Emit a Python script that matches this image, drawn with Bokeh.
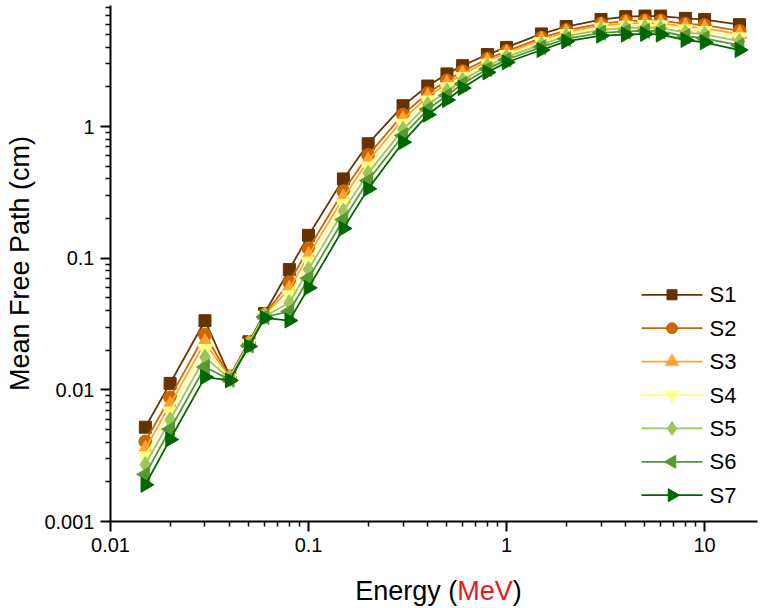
import math
from bokeh.plotting import figure
from bokeh.models import FixedTicker, CustomJSTickFormatter, Range1d, Div, LinearScale
from bokeh.core.properties import value
from bokeh.layouts import column
from bokeh.embed import file_html
from bokeh.resources import INLINE

# ---- data ----
energy = [0.015, 0.02, 0.03, 0.04, 0.05, 0.06, 0.08, 0.1, 0.15, 0.2, 0.3, 0.4, 0.5,
          0.6, 0.8, 1, 1.5, 2, 3, 4, 5, 6, 8, 10, 15]

s1 = [0.0052, 0.0112, 0.0335, 0.0127, 0.0232, 0.0380, 0.082, 0.149, 0.40, 0.74, 1.44, 2.03,
      2.51, 2.90, 3.52, 3.99, 5.05, 5.74, 6.49, 6.83, 6.90, 6.90, 6.63, 6.49, 5.94]
s2 = [0.00405, 0.00876, 0.0262, 0.01247, 0.0227, 0.0373, 0.0656, 0.118, 0.322, 0.607, 1.23,
      1.79, 2.24, 2.63, 3.26, 3.73, 4.71, 5.38, 6.05, 6.32, 6.38, 6.36, 6.03, 5.88, 5.32]
s3 = [0.00355, 0.00772, 0.0230, 0.01236, 0.0225, 0.0369, 0.0585, 0.105, 0.288, 0.548, 1.13,
      1.68, 2.11, 2.50, 3.13, 3.61, 4.54, 5.20, 5.83, 6.06, 6.12, 6.10, 5.73, 5.58, 5.02]
s4 = [0.00314, 0.00685, 0.0205, 0.01224, 0.0223, 0.0366, 0.0525, 0.0942, 0.259, 0.498, 1.05,
      1.58, 1.99, 2.38, 3.01, 3.50, 4.39, 5.04, 5.64, 5.84, 5.90, 5.87, 5.48, 5.32, 4.76]
s5 = [0.00271, 0.00592, 0.0177, 0.01210, 0.0220, 0.0362, 0.0459, 0.0821, 0.228, 0.443, 0.952,
      1.47, 1.86, 2.25, 2.88, 3.37, 4.21, 4.85, 5.41, 5.58, 5.64, 5.58, 5.18, 5.01, 4.45]
s6 = [0.00228, 0.00502, 0.0149, 0.01196, 0.0217, 0.0357, 0.0394, 0.0703, 0.196, 0.388, 0.854,
      1.35, 1.72, 2.11, 2.73, 3.22, 4.01, 4.63, 5.15, 5.28, 5.33, 5.29, 4.86, 4.68, 4.13]
s7 = [0.0019, 0.0042, 0.0125, 0.0118, 0.0214, 0.0352, 0.0336, 0.0595, 0.168, 0.336, 0.76,
      1.23, 1.59, 1.96, 2.58, 3.07, 3.81, 4.43, 4.90, 4.99, 5.05, 4.99, 4.54, 4.36, 3.81]

series_names = ["S1", "S2", "S3", "S4", "S5", "S6", "S7"]
series_values = [s1, s2, s3, s4, s5, s6, s7]

x_ticks = [0.01, 0.1, 1, 10]
y_ticks = [0.001, 0.01, 0.1, 1]

# ---- styles ----
colors = ["#663300", "#cc6600", "#ffa333", "#ffff88", "#9dc75b", "#559933", "#006600"]
markers = ["square", "circle", "triangle", "inverted_triangle", "diamond", "triangle", "triangle"]
angles = [0, 0, 0, 0, 0, math.pi / 2, -math.pi / 2]
sizes = [12, 13, 15, 15, 16, 15, 15]
leg_sizes = [10, 11, 13, 13, 14, 13, 13]
FONT = "Liberation Sans"

FRAME_W, FRAME_H = 647, 516
p = figure(width=760, height=566, x_axis_type="log", y_axis_type="log",
           x_range=Range1d(0.01, 18.5), y_range=Range1d(0.001, 8.3),
           output_backend="svg", toolbar_location=None,
           min_border_left=110, min_border_right=3, min_border_top=5, min_border_bottom=45)
p.outline_line_color = None
p.xgrid.visible = False
p.ygrid.visible = False
p.background_fill_color = "white"

# pixel-like linear ranges for the hand-built legend (positions inside the frame)
p.extra_x_ranges = {"lx": Range1d(0, FRAME_W)}
p.extra_y_ranges = {"ly": Range1d(0, FRAME_H)}
p.extra_x_scales = {"lx": LinearScale()}
p.extra_y_scales = {"ly": LinearScale()}

for name, vals, c, m, a, s in zip(series_names, series_values, colors, markers, angles, sizes):
    p.line(energy, vals, line_color=c, line_width=1.8)
    p.scatter(energy, vals, marker=m, angle=a, size=s, fill_color=c, line_color=c)

# legend
row0 = 226.7   # centre of first row, px above frame bottom
pitch = 33.4
for i, (name, c, m, a, s) in enumerate(zip(series_names, colors, markers, angles, leg_sizes)):
    yy = row0 - i * pitch
    p.segment(x0=[531], y0=[yy], x1=[592], y1=[yy], line_color=c, line_width=1.8,
              x_range_name="lx", y_range_name="ly")
    p.scatter(x=[561.5], y=[yy], marker=m, angle=a, size=s, fill_color=c, line_color=c,
              x_range_name="lx", y_range_name="ly")
    p.text(x=[599], y=[yy], text=[name], text_font=value(FONT), text_font_size="22px",
           text_baseline="middle", text_align="left", text_color="black",
           x_range_name="lx", y_range_name="ly")

minor_x = [k * 10 ** d for d in range(-2, 2) for k in range(2, 10)]
minor_y = [k * 10 ** d for d in range(-3, 1) for k in range(2, 10)]
p.xaxis.ticker = FixedTicker(ticks=x_ticks, minor_ticks=minor_x)
p.yaxis.ticker = FixedTicker(ticks=y_ticks, minor_ticks=minor_y)
fmt = "return String(Number(tick.toPrecision(3)));"
p.xaxis.formatter = CustomJSTickFormatter(code=fmt)
p.yaxis.formatter = CustomJSTickFormatter(code=fmt)

for ax in (p.xaxis[0], p.yaxis[0]):
    ax.axis_line_width = 2
    ax.axis_line_color = "black"
    ax.major_tick_line_width = 2
    ax.minor_tick_line_width = 1.5
    ax.major_tick_out = 10
    ax.major_tick_in = 0
    ax.minor_tick_out = 5
    ax.minor_tick_in = 0
    ax.major_label_text_font = FONT
    ax.major_label_text_font_size = "20px"
    ax.major_label_text_color = "black"
    ax.major_label_standoff = 6

p.yaxis.axis_label = "Mean Free Path (cm)"
p.yaxis.axis_label_text_font = FONT
p.yaxis.axis_label_text_font_size = "27px"
p.yaxis.axis_label_text_font_style = "normal"
p.yaxis.axis_label_text_color = "black"
p.yaxis.axis_label_standoff = 6

title_html = ('<div style="width:647px;margin-left:110px;text-align:center;'
              'font-family:\'Liberation Sans\';font-size:27px;color:black;line-height:40px;">'
              'Energy (<span style="color:#e8191f">MeV</span>)</div>')
xlabel = Div(text=title_html, width=760, height=40)

layout = column(p, xlabel, spacing=0)
open("out.html", "w").write(file_html(layout, INLINE))
